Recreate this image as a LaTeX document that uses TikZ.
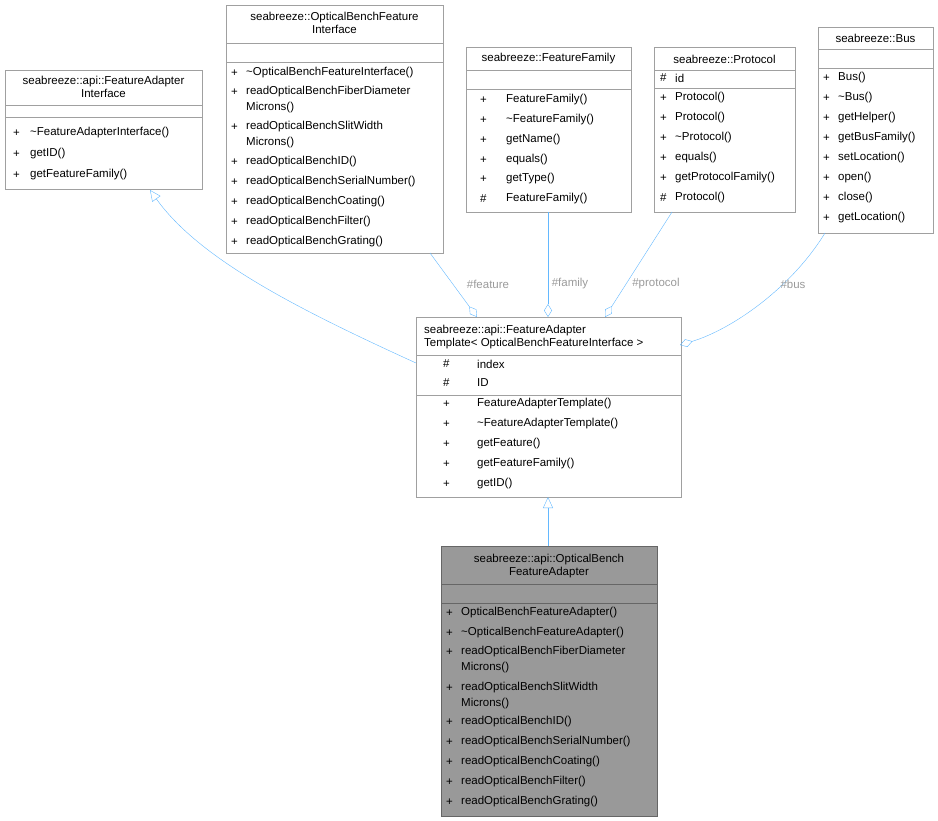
\documentclass[tikz,border=0pt]{standalone}
\usepackage{fontspec}
\setmainfont{Liberation Sans}
\usetikzlibrary{arrows.meta}
\definecolor{edge}{HTML}{63B8FF}
\definecolor{frame}{HTML}{A0A0A0}
\definecolor{lbl}{HTML}{9A9A9A}
\newcommand{\tld}{\textasciitilde}

\begin{document}
\begin{tikzpicture}[x=1pt,y=-1pt,
  every node/.style={font=\fontsize{11.5}{13}\selectfont,inner sep=0pt},
  cls/.style={draw=frame,fill=white},
  sel/.style={draw=black!60,fill=black!40},
  txt/.style={anchor=west},
  ttl/.style={anchor=center,align=center},
  inh/.style={draw=edge,-{Triangle[open,length=11pt,width=10pt]}},
  agg/.style={draw=edge,-{Diamond[open,length=13pt,width=8pt]}},
  elbl/.style={text=lbl}]
\useasboundingbox (0,0) rectangle (938,821);

% FeatureAdapterInterface
\draw[cls] (5,70) rectangle (202,189);
\draw[frame] (5,105) -- (202,105) (5,117) -- (202,117);
\node[ttl] (fai) at (103.5,87) {seabreeze::api::FeatureAdapter\\Interface};
\foreach \y/\t in {133/\tld FeatureAdapterInterface(),154/getID(),175/getFeatureFamily()}{
  \node[txt] at (13,\y) {+}; \node[txt] at (30,\y) {\t};}
\coordinate (faib) at (150,190);

% OpticalBenchFeatureInterface
\draw[cls] (226,5) rectangle (443,253);
\draw[frame] (226,43) -- (443,43) (226,62) -- (443,62);
\node[ttl] (obfi) at (334.5,23) {seabreeze::OpticalBenchFeature\\Interface};
\foreach \y/\t in {73/\tld OpticalBenchFeatureInterface(),92/readOpticalBenchFiberDiameter,127/readOpticalBenchSlitWidth,162/readOpticalBenchID(),182/readOpticalBenchSerialNumber(),202/readOpticalBenchCoating(),222/readOpticalBenchFilter(),242/readOpticalBenchGrating()}{
  \node[txt] at (231,\y) {+}; \node[txt] at (246,\y) {\t};}
\node[txt] at (246,108) {Microns()};
\node[txt] at (246,143) {Microns()};
\coordinate (obfib) at (430,253);

% FeatureFamily
\draw[cls] (466,47) rectangle (631,212);
\draw[frame] (466,70) -- (631,70) (466,89) -- (631,89);
\node[ttl] (ff) at (548.5,59) {seabreeze::FeatureFamily};
\foreach \y/\s/\t in {100/+/FeatureFamily(),120/+/\tld FeatureFamily(),140/+/getName(),160/+/equals(),179/+/getType(),199/\#/FeatureFamily()}{
  \node[txt] at (480,\y) {\s}; \node[txt] at (506,\y) {\t};}
\coordinate (ffb) at (548,212);

% Protocol
\draw[cls] (654,47) rectangle (795,212);
\draw[frame] (654,70) -- (795,70) (654,88) -- (795,88);
\node[ttl] (pr) at (724.5,59) {seabreeze::Protocol};
\node[txt] at (660,78) {\#}; \node[txt] at (675,78) {id};
\foreach \y/\s/\t in {98/+/Protocol(),118/+/Protocol(),138/+/\tld Protocol(),158/+/equals(),178/+/getProtocolFamily(),198/\#/Protocol()}{
  \node[txt] at (660,\y) {\s}; \node[txt] at (675,\y) {\t};}
\coordinate (prb) at (672,212);

% Bus
\draw[cls] (818,27) rectangle (933,233);
\draw[frame] (818,49) -- (933,49) (818,68) -- (933,68);
\node[ttl] (bus) at (875.5,38) {seabreeze::Bus};
\foreach \y/\t in {78/Bus(),98/\tld Bus(),118/getHelper(),138/getBusFamily(),158/setLocation(),178/open(),198/close(),218/getLocation()}{
  \node[txt] at (823,\y) {+}; \node[txt] at (838,\y) {\t};}
\coordinate (busb) at (825,233);

% FeatureAdapterTemplate
\draw[cls] (416,317) rectangle (681,497);
\draw[frame] (416,355) -- (681,355) (416,395) -- (681,395);
\node[anchor=west,align=left] (fat) at (424,337) {seabreeze::api::FeatureAdapter\\Template< OpticalBenchFeatureInterface >};
\foreach \y/\s/\t in {364/\#/index,383/\#/ID,404/+/FeatureAdapterTemplate(),424/+/\tld FeatureAdapterTemplate(),444/+/getFeature(),464/+/getFeatureFamily(),484/+/getID()}{
  \node[txt] at (443,\y) {\s}; \node[txt] at (477,\y) {\t};}

% OpticalBenchFeatureAdapter
\draw[sel] (441,546) rectangle (657,816);
\draw[black!60] (441,584) -- (657,584) (441,603) -- (657,603);
\node[ttl] (obfa) at (549,566) {seabreeze::api::OpticalBench\\FeatureAdapter};
\foreach \y/\t in {613/OpticalBenchFeatureAdapter(),633/\tld OpticalBenchFeatureAdapter(),652/readOpticalBenchFiberDiameter,688/readOpticalBenchSlitWidth,722/readOpticalBenchID(),742/readOpticalBenchSerialNumber(),762/readOpticalBenchCoating(),782/readOpticalBenchFilter(),802/readOpticalBenchGrating()}{
  \node[txt] at (446,\y) {+}; \node[txt] at (461,\y) {\t};}
\node[txt] at (461,668) {Microns()};
\node[txt] at (461,704) {Microns()};

% connectors
\coordinate (fatl) at (416,363);
\coordinate (fatb) at (548,497);
\coordinate (obfat) at (548,546);
\draw[inh] (fatl) .. controls (300,310) and (200,260) .. (faib);
\draw[inh] (obfat) -- (fatb);
\draw[agg] (obfib) -- (477,317);
\draw[agg] (ffb) -- (548,317);
\draw[agg] (prb) -- (605,317);
\draw[agg] (busb) .. controls (790,290) and (730,330) .. (680,345);
\node[elbl] (lf) at (488,284) {\#feature};
\node[elbl] (lfa) at (570,284) {\#family};
\node[elbl] (lp) at (656,284) {\#protocol};
\node[elbl] (lb) at (793,284) {\#bus};
\end{tikzpicture}
\end{document}
